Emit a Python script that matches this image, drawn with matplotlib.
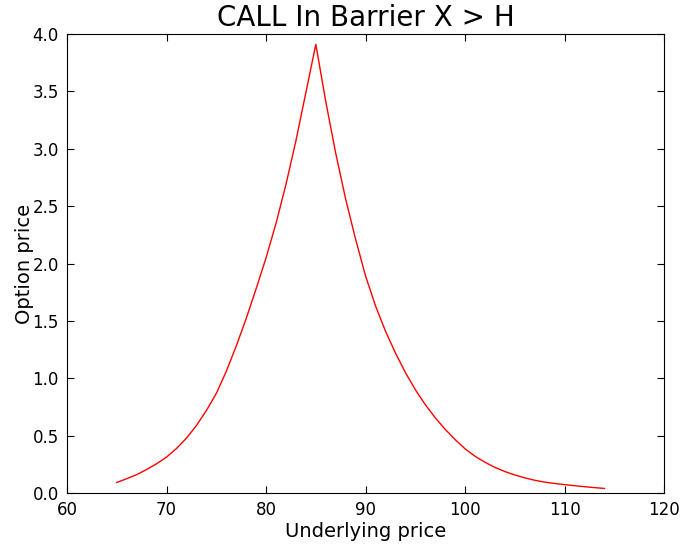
import matplotlib
matplotlib.use('Agg')
import matplotlib.pyplot as plt

# values (barrier at 85)
underlying = [65, 66, 67, 68, 69, 70, 71, 72, 73, 74, 75, 76, 77, 78, 79, 80,
              81, 82, 83, 84, 85,
              86, 87, 88, 89, 90, 91, 92, 93, 94, 95, 96, 97, 98, 99, 100,
              101, 102, 103, 104, 105, 106, 107, 108, 109, 110, 111, 112, 113, 114]
option_price = [0.092, 0.125, 0.16, 0.205, 0.255, 0.313, 0.388, 0.478, 0.588, 0.718,
                0.868, 1.06, 1.28, 1.52, 1.78, 2.05,
                2.35, 2.69, 3.07, 3.49, 3.91,
                3.41, 2.96, 2.56, 2.21, 1.89, 1.63, 1.41, 1.22, 1.05, 0.90,
                0.77, 0.655, 0.555, 0.465, 0.385,
                0.32, 0.268, 0.223, 0.187, 0.157, 0.132, 0.111, 0.095, 0.083,
                0.073, 0.064, 0.055, 0.047, 0.04]

fig = plt.figure(figsize=(6.84, 5.5), dpi=100)
ax = fig.add_axes([0.098, 0.1036, 0.873, 0.8346])
ax.plot(underlying, option_price, color="red", linewidth=1)

ax.set_xlim(60, 120)
ax.set_ylim(0, 4.0)
ax.set_xticks(range(60, 121, 10))
ax.set_yticks([i * 0.5 for i in range(9)])
ax.set_yticklabels([f"{i * 0.5:.1f}" for i in range(9)])
ax.tick_params(direction="in", top=True, right=True, length=5, labelsize=12, pad=6)

ax.set_title("CALL In Barrier X > H", fontsize=20)
ax.set_xlabel("Underlying price", fontsize=14, labelpad=2)
ax.set_ylabel("Option price", fontsize=14, labelpad=-1)

fig.savefig("out.png", dpi=100)
